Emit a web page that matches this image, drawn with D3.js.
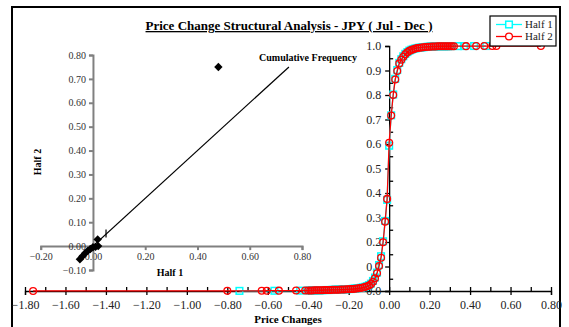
<!DOCTYPE html>
<html><head><meta charset="utf-8">
<script src="https://cdn.jsdelivr.net/npm/d3@7"></script>
<style>
body{margin:0;background:#fff;}
svg text{font-family:"Liberation Serif","Times New Roman",serif;}
</style></head><body>
<svg id="chart" width="569" height="327"></svg>
<script>
// Cumulative frequency of price changes, first half of the period
const half1X = [-0.74, -0.567, -0.44,
  -0.40, -0.39, -0.38, -0.37, -0.36, -0.35, -0.34, -0.33, -0.32, -0.31, -0.30,
  -0.29, -0.28, -0.27, -0.26, -0.25, -0.24, -0.23, -0.22, -0.21, -0.20,
  -0.19, -0.18, -0.17, -0.16, -0.15, -0.14, -0.13, -0.12, -0.11, -0.10,
  -0.09, -0.08, -0.07, -0.06, -0.05, -0.04, -0.03, -0.02, -0.01, 0.00,
  0.01, 0.02, 0.03, 0.04, 0.05, 0.06, 0.07, 0.08, 0.09, 0.10,
  0.11, 0.12, 0.13, 0.14, 0.15, 0.16, 0.17, 0.18, 0.19, 0.20,
  0.21, 0.22, 0.23, 0.24, 0.25, 0.26, 0.27, 0.28, 0.29, 0.30,
  0.34, 0.37, 0.42, 0.48];
const half1Y = [0.0005, 0.001, 0.0015,
  0.002, 0.002, 0.002, 0.002, 0.003, 0.003, 0.003, 0.003, 0.004, 0.004, 0.004,
  0.004, 0.005, 0.005, 0.005, 0.006, 0.006, 0.006, 0.007, 0.007, 0.008,
  0.008, 0.009, 0.010, 0.011, 0.012, 0.013, 0.015, 0.017, 0.020, 0.024,
  0.030, 0.041, 0.055, 0.075, 0.106, 0.142, 0.203, 0.286, 0.372, 0.593,
  0.717, 0.802, 0.866, 0.902, 0.931, 0.946, 0.958, 0.968, 0.975, 0.981,
  0.985, 0.988, 0.990, 0.992, 0.993, 0.994, 0.995, 0.996, 0.997, 0.997,
  0.998, 0.998, 0.998, 0.999, 0.999, 0.999, 0.999, 0.999, 0.999, 0.9992,
  0.9995, 0.9997, 0.9999, 1.0];

// Cumulative frequency of price changes, second half of the period
const half2X = [-1.76, -0.80, -0.63, -0.605, -0.545, -0.46, -0.415,
  -0.40, -0.39, -0.38, -0.37, -0.36, -0.35, -0.34, -0.33, -0.32, -0.31, -0.30,
  -0.29, -0.28, -0.27, -0.26, -0.25, -0.24, -0.23, -0.22, -0.21, -0.20,
  -0.19, -0.18, -0.17, -0.16, -0.15, -0.14, -0.13, -0.12, -0.11, -0.10,
  -0.09, -0.08, -0.07, -0.06, -0.05, -0.04, -0.03, -0.02, -0.01, 0.00,
  0.01, 0.02, 0.03, 0.04, 0.05, 0.06, 0.07, 0.08, 0.09, 0.10,
  0.11, 0.12, 0.13, 0.14, 0.15, 0.16, 0.17, 0.18, 0.19, 0.20,
  0.21, 0.22, 0.23, 0.24, 0.25, 0.26, 0.27, 0.28, 0.29, 0.30,
  0.31, 0.32, 0.38, 0.43, 0.47, 0.51, 0.53, 0.75];
const half2Y = [0.0003, 0.0006, 0.0009, 0.0012, 0.0015, 0.0018, 0.002,
  0.002, 0.002, 0.002, 0.003, 0.003, 0.003, 0.003, 0.003, 0.004, 0.004, 0.004,
  0.004, 0.005, 0.005, 0.005, 0.005, 0.006, 0.006, 0.006, 0.007, 0.007,
  0.008, 0.008, 0.009, 0.010, 0.011, 0.012, 0.014, 0.016, 0.019, 0.022,
  0.028, 0.038, 0.052, 0.072, 0.102, 0.136, 0.199, 0.283, 0.376, 0.605,
  0.716, 0.800, 0.863, 0.898, 0.929, 0.944, 0.956, 0.966, 0.974, 0.980,
  0.984, 0.987, 0.990, 0.992, 0.993, 0.994, 0.995, 0.996, 0.997, 0.997,
  0.998, 0.998, 0.998, 0.999, 0.999, 0.999, 0.999, 0.999, 0.999, 0.999,
  0.999, 0.9992, 0.9994, 0.9996, 0.9997, 0.9998, 0.9999, 1.0];

// Half 1 against Half 2 comparison points
const scatterX = [-0.05, -0.04, -0.03, -0.02, -0.01, 0.00, 0.01, 0.02, 0.018, 0.48];
const scatterY = [-0.055, -0.042, -0.030, -0.020, -0.012, -0.005, -0.003, 0.000, 0.028, 0.75];
const refLineX = [-0.05, 0.75];
const refLineY = [-0.05, 0.75];
const refMarkX = [0.05];
const refMarkY = [0.053];

const mainXTicks = [-1.8, -1.6, -1.4, -1.2, -1.0, -0.8, -0.6, -0.4, -0.2, 0.0, 0.2, 0.4, 0.6, 0.8];
const mainXMinor = [-1.8, -1.7, -1.6, -1.5, -1.4, -1.3, -1.2, -1.1, -1.0, -0.9, -0.8, -0.7, -0.6, -0.5, -0.4, -0.3, -0.2, -0.1, 0.0, 0.1, 0.2, 0.3, 0.4, 0.5, 0.6, 0.7, 0.8];
const mainYTicks = [0.0, 0.1, 0.2, 0.3, 0.4, 0.5, 0.6, 0.7, 0.8, 0.9, 1.0];
const mainYMinor = [0.05, 0.15, 0.25, 0.35, 0.45, 0.55, 0.65, 0.75, 0.85, 0.95];
const insetXTicks = [-0.2, 0.0, 0.2, 0.4, 0.6, 0.8];
const insetYTicks = [-0.1, 0.0, 0.1, 0.2, 0.3, 0.4, 0.5, 0.6, 0.7, 0.8];

const seriesNames = ["Half 1", "Half 2"];
const seriesColors = ["#00FFFF", "#FF0000"];

const svg = d3.select("#chart");

// chart frame
svg.append("rect").attr("x", 12).attr("y", 7).attr("width", 548).attr("height", 340)
  .attr("fill", "#fff").attr("stroke", "#000").attr("stroke-width", 2);

// title
svg.append("text").attr("x", 289).attr("y", 30).attr("text-anchor", "middle")
  .attr("font-size", 13).attr("font-weight", "bold").attr("text-decoration", "underline")
  .text("Price Change Structural Analysis - JPY ( Jul - Dec )");

// ---- main cumulative distribution chart ----
const x = d3.scaleLinear().domain([-1.8, 0.8]).range([25, 551]);
const y = d3.scaleLinear().domain([0, 1]).range([291, 46]);

const gx = svg.append("g").attr("transform", `translate(0,${y(0)})`);
gx.call(d3.axisBottom(x).tickValues(mainXTicks).tickFormat(d3.format(".2f"))
  .tickSize(4).tickPadding(5));
gx.append("g").call(d3.axisTop(x).tickValues(mainXMinor).tickFormat("").tickSize(4))
  .select(".domain").remove();
gx.selectAll("path,line").attr("stroke", "#000").attr("stroke-width", 1.3);
gx.selectAll("text").attr("font-size", 12).attr("fill", "#222")
  .style("font-family", "Liberation Serif");

const gy = svg.append("g").attr("transform", `translate(${x(0)},0)`);
gy.call(d3.axisLeft(y).tickValues(mainYTicks).tickFormat(d3.format(".1f"))
  .tickSize(4).tickPadding(4));
gy.append("g").call(d3.axisRight(y).tickValues(mainYMinor).tickFormat("").tickSize(4))
  .select(".domain").remove();
gy.selectAll("path,line").attr("stroke", "#000").attr("stroke-width", 1.3);
gy.selectAll("text").attr("font-size", 12).attr("fill", "#222")
  .style("font-family", "Liberation Serif");

svg.append("text").attr("x", 288).attr("y", 323).attr("text-anchor", "middle")
  .attr("font-size", 11).attr("font-weight", "bold").text("Price Changes");

// ---- inset: Half 1 vs Half 2 ----
const xi = d3.scaleLinear().domain([-0.2, 0.8]).range([40.7, 302]);
const yi = d3.scaleLinear().domain([-0.1, 0.8]).range([270, 55]);

const gix = svg.append("g").attr("transform", `translate(0,${yi(0)})`);
gix.call(d3.axisBottom(xi).tickValues(insetXTicks).tickFormat(d3.format(".2f"))
  .tickSize(4).tickPadding(3));
const giy = svg.append("g").attr("transform", `translate(${xi(0)},0)`);
giy.call(d3.axisLeft(yi).tickValues(insetYTicks).tickFormat(d3.format(".2f"))
  .tickSize(4).tickPadding(3));
[gix, giy].forEach(g => {
  g.selectAll("path,line").attr("stroke", "#808080").attr("stroke-width", 2);
  g.selectAll("text").attr("font-size", 10).attr("fill", "#333")
    .style("font-family", "Liberation Serif");
});

svg.append("text").attr("transform", "translate(41,162) rotate(-90)")
  .attr("text-anchor", "middle").attr("font-size", 10).attr("font-weight", "bold").text("Half 2");
svg.append("text").attr("x", 170).attr("y", 276).attr("text-anchor", "middle")
  .attr("font-size", 10).attr("font-weight", "bold").text("Half 1");
svg.append("text").attr("x", 308).attr("y", 61).attr("text-anchor", "middle")
  .attr("font-size", 10).attr("font-weight", "bold").text("Cumulative Frequency");

const refPts = refLineX.map((v, i) => [v, refLineY[i]]);
svg.append("path").datum(refPts)
  .attr("d", d3.line().x(d => xi(d[0])).y(d => yi(d[1])))
  .attr("fill", "none").attr("stroke", "#000").attr("stroke-width", 1.2);
svg.selectAll(".refmark").data(refMarkX.map((v, i) => [v, refMarkY[i]])).enter()
  .append("line").attr("class", "refmark")
  .attr("x1", d => xi(d[0])).attr("x2", d => xi(d[0]))
  .attr("y1", d => yi(d[1]) - 4).attr("y2", d => yi(d[1]) + 4)
  .attr("stroke", "#000").attr("stroke-width", 1.2);

const diamond = "M0,-4.2L4.2,0L0,4.2L-4.2,0Z";
svg.selectAll(".dia").data(scatterX.map((v, i) => [v, scatterY[i]])).enter()
  .append("path").attr("class", "dia")
  .attr("transform", d => `translate(${xi(d[0])},${yi(d[1])})`)
  .attr("d", diamond).attr("fill", "#000");

// ---- series ----
const s1 = half1X.map((v, i) => [v, half1Y[i]]);
const s2 = half2X.map((v, i) => [v, half2Y[i]]);
const line = d3.line().x(d => x(d[0])).y(d => y(d[1]));

svg.append("path").datum(s1).attr("d", line).attr("fill", "none")
  .attr("stroke", seriesColors[0]).attr("stroke-width", 1.3);
svg.selectAll(".sq").data(s1).enter().append("rect").attr("class", "sq")
  .attr("x", d => x(d[0]) - 3.3).attr("y", d => y(d[1]) - 3.3)
  .attr("width", 6.6).attr("height", 6.6)
  .attr("fill", "none").attr("stroke", seriesColors[0]).attr("stroke-width", 1.5);

svg.append("path").datum(s2).attr("d", line).attr("fill", "none")
  .attr("stroke", seriesColors[1]).attr("stroke-width", 1.3);
svg.selectAll(".ci").data(s2).enter().append("circle").attr("class", "ci")
  .attr("cx", d => x(d[0])).attr("cy", d => y(d[1])).attr("r", 3.4)
  .attr("fill", "none").attr("stroke", seriesColors[1]).attr("stroke-width", 1.3);

// ---- legend ----
const lg = svg.append("g");
lg.append("rect").attr("x", 490).attr("y", 16).attr("width", 66).attr("height", 30)
  .attr("fill", "#fff").attr("stroke", "#000").attr("stroke-width", 1.2);
seriesNames.forEach((name, i) => {
  const cy = 24.5 + i * 12;
  lg.append("line").attr("x1", 496).attr("x2", 522).attr("y1", cy).attr("y2", cy)
    .attr("stroke", seriesColors[i]).attr("stroke-width", 1.3);
  if (i === 0) {
    lg.append("rect").attr("x", 509 - 3.3).attr("y", cy - 3.3).attr("width", 6.6).attr("height", 6.6)
      .attr("fill", "#fff").attr("stroke", seriesColors[i]).attr("stroke-width", 1.5);
  } else {
    lg.append("circle").attr("cx", 509).attr("cy", cy).attr("r", 3.4)
      .attr("fill", "#fff").attr("stroke", seriesColors[i]).attr("stroke-width", 1.3);
  }
  lg.append("text").attr("x", 525).attr("y", cy + 3.8).attr("font-size", 11)
    .attr("fill", "#222").text(name);
});
</script>
</body></html>
